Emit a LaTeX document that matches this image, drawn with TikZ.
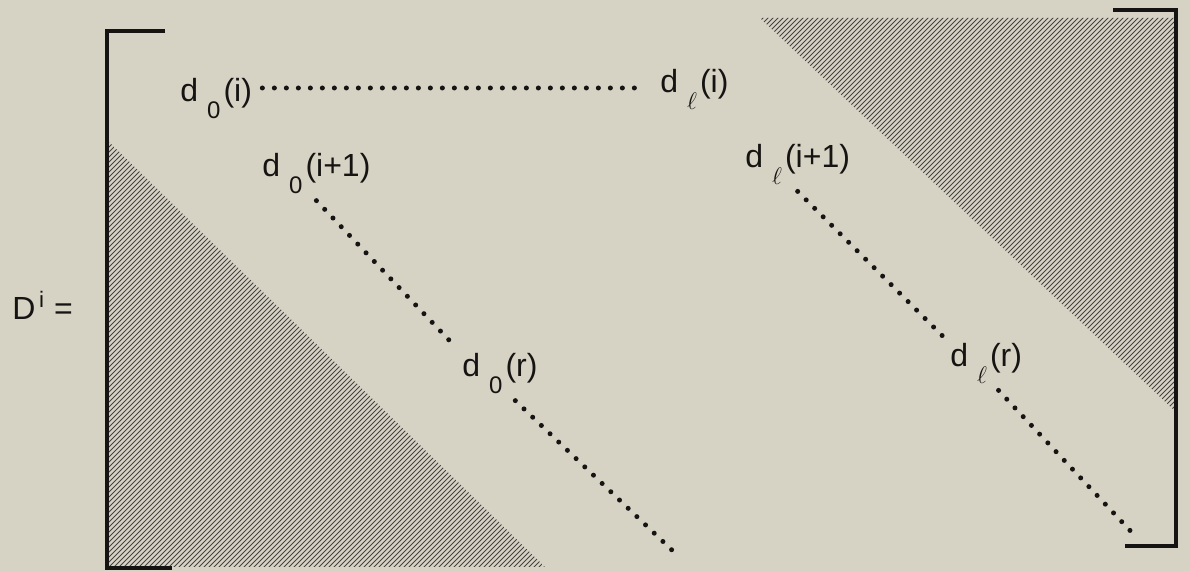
\documentclass[tikz,border=0pt]{standalone}
\usepackage{fontspec}
\setmainfont{Liberation Sans}
\usetikzlibrary{positioning}
\definecolor{paper}{RGB}{214,210,196}
\definecolor{ink}{RGB}{22,20,18}
% label d with a lowered index and a bracketed argument
\newcommand{\dsub}[2]{d\hspace{4.5pt}\raisebox{-8.5pt}{\fontsize{12}{14}\selectfont #1}\hspace{1.5pt}(#2)}
\tikzset{
  lbl/.style={inner sep=3pt, anchor=base west, font=\fontsize{16}{18}\selectfont, text=ink},
  dotline/.style={draw=ink, line width=2.5pt, line cap=round, dash pattern=on 0pt off 6pt},
  bracket/.style={draw=ink, line width=2.3pt},
  hatchline/.style={draw=ink!80, line width=0.5pt}
}
\begin{document}
\begin{tikzpicture}[x=0.5pt,y=-0.5pt]
\useasboundingbox[fill=paper] (0,0) rectangle (1190,571);
% Hatched lower-left triangle
\begin{scope}
  \clip (107,140) -- (107,567) -- (545,567) -- cycle;
  \foreach \k in {246,251,...,1116} \draw[hatchline] (\k,0) -- (0,\k);
\end{scope}
% Hatched upper-right triangle
\begin{scope}
  \clip (760,18) -- (1176,18) -- (1176,412) -- cycle;
  \foreach \k in {776,781,...,1592} \draw[hatchline] (\k,0) -- (0,\k);
\end{scope}
% Brackets
\draw[bracket] (165,31) -- (107,31) -- (107,568) -- (172,568);
\draw[bracket] (1113,10) -- (1176,10) -- (1176,546) -- (1125,546);
% Labels
\node[lbl] (lhs) at (6,320) {D\textsuperscript{\,i} =};
\node[lbl] (d0i) at (174,102) {\dsub{0}{i}};
\node[lbl] (dli) at (654,93) {\dsub{$\ell$}{i}};
\node[lbl] (d0i1) at (256,177) {\dsub{0}{i+1}};
\node[lbl] (dli1) at (739,168) {\dsub{$\ell$}{i+1}};
\node[lbl] (d0r) at (456,377) {\dsub{0}{r}};
\node[lbl] (dlr) at (944,367) {\dsub{$\ell$}{r}};
\coordinate (d0end) at (675,553);
\coordinate (dlend) at (1138,539);
% Dotted runs
\draw[dotline, shorten <=2pt, shorten >=5pt] ([yshift=7pt]d0i.base east) -- ([yshift=7pt]d0i.base east -| dli.west);
\draw[dotline] (d0i1.south) -- (d0r.north west);
\draw[dotline] (d0r.-60) -- (d0end);
\draw[dotline] (dli1.south) -- (dlr.north west);
\draw[dotline] (dlr.-65) -- (dlend);
\end{tikzpicture}
\end{document}
